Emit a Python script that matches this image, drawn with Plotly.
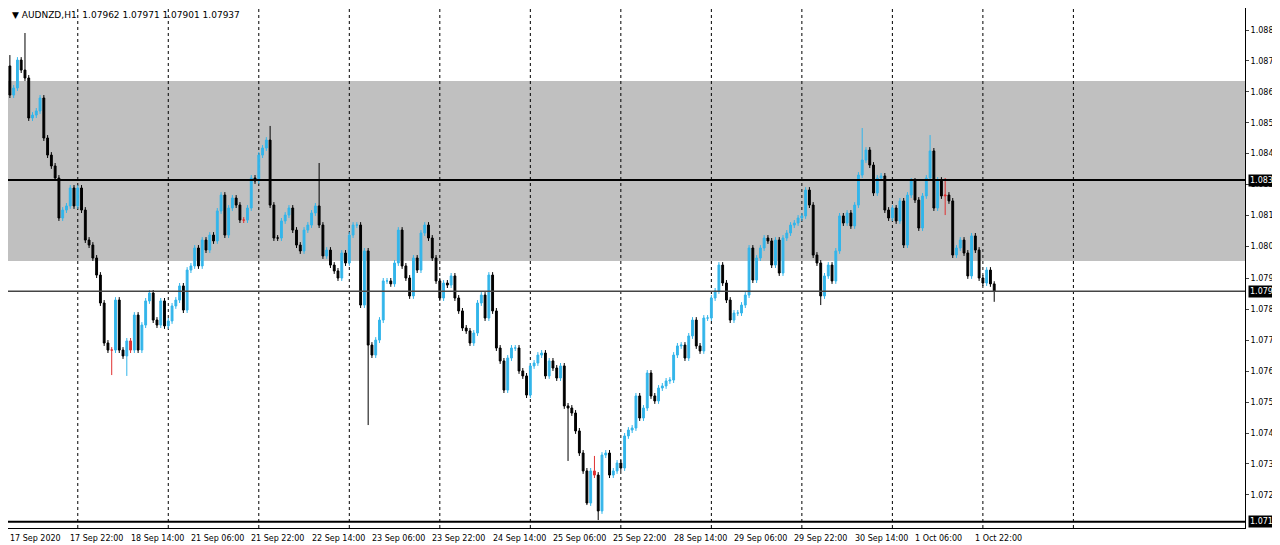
import plotly.graph_objects as go

# AUDNZD H1 closes left to right
close = [
    1.08604, 1.08628, 1.08723, 1.08689, 1.08662, 1.08526, 1.08536, 1.08550, 1.08594, 1.08458,
    1.08400, 1.08363, 1.08322, 1.08186, 1.08213, 1.08227, 1.08288, 1.08227, 1.08288, 1.08213,
    1.08111, 1.08094, 1.08050, 1.07992, 1.07897, 1.07761, 1.07737, 1.07737, 1.07907, 1.07737,
    1.07717, 1.07768, 1.07737, 1.07856, 1.07737, 1.07822, 1.07904, 1.07931, 1.07839, 1.07822,
    1.07904, 1.07819, 1.07836, 1.07887, 1.07907, 1.07955, 1.07873, 1.08009, 1.08023, 1.08084,
    1.08023, 1.08111, 1.08077, 1.08128, 1.08108, 1.08210, 1.08264, 1.08128, 1.08220, 1.08254,
    1.08230, 1.08179, 1.08179, 1.08220, 1.08322, 1.08312, 1.08400,
    1.08424, 1.08451, 1.08230, 1.08118, 1.08118, 1.08176, 1.08196, 1.08220, 1.08145, 1.08094,
    1.08074, 1.08145, 1.08162, 1.08203, 1.08227, 1.08162, 1.08057, 1.08077, 1.08026, 1.08006,
    1.07982, 1.08067, 1.08033, 1.08128, 1.08162, 1.08162, 1.07890, 1.08074, 1.07754, 1.07720,
    1.07771, 1.07839, 1.07972, 1.07972, 1.07962, 1.08033, 1.08145, 1.08023, 1.07982, 1.07921,
    1.08050, 1.08009, 1.08135, 1.08162, 1.08118, 1.08050, 1.07972, 1.07914, 1.07965, 1.07958,
    1.07989, 1.07914, 1.07870, 1.07812, 1.07802, 1.07761, 1.07795, 1.07897, 1.07924, 1.07846,
    1.07992, 1.07870, 1.07744, 1.07700, 1.07601, 1.07710,
    1.07744, 1.07744, 1.07666, 1.07649, 1.07584, 1.07683, 1.07693, 1.07720, 1.07727, 1.07649,
    1.07700, 1.07676, 1.07642, 1.07683, 1.07547, 1.07540, 1.07523, 1.07462, 1.07387, 1.07326,
    1.07217, 1.07326, 1.07312, 1.07190, 1.07380, 1.07387, 1.07312, 1.07326, 1.07353, 1.07336,
    1.07445, 1.07465, 1.07472, 1.07581, 1.07506, 1.07540, 1.07659, 1.07581, 1.07564, 1.07608,
    1.07615, 1.07632, 1.07635, 1.07720, 1.07751, 1.07754, 1.07710, 1.07785, 1.07839, 1.07751,
    1.07734, 1.07846, 1.07846, 1.07914, 1.07938, 1.08026, 1.07965, 1.07907, 1.07839, 1.07863,
    1.07863, 1.07890, 1.07924, 1.08084,
    1.07975, 1.08050, 1.08084, 1.08118, 1.08108, 1.08026, 1.08111, 1.07999, 1.08118, 1.08135,
    1.08162, 1.08169, 1.08186, 1.08193, 1.08281, 1.08230, 1.08060, 1.08033, 1.07921, 1.07989,
    1.08026, 1.07972, 1.08074, 1.08193, 1.08169, 1.08203, 1.08159, 1.08230, 1.08332, 1.08383,
    1.08417, 1.08366, 1.08271, 1.08322, 1.08329, 1.08213, 1.08186, 1.08220, 1.08176, 1.08244,
    1.08094, 1.08264, 1.08312, 1.08247, 1.08152, 1.08261, 1.08322, 1.08414, 1.08220, 1.08315,
    1.08261, 1.08264, 1.08244, 1.08060, 1.08084, 1.08111, 1.08067, 1.07989, 1.08125, 1.08077,
    1.07982, 1.07965, 1.08009, 1.07962, 1.07937,
]
first_open = 1.08703

# notable wick extremes (bar index -> price)
highs_read = {0: 1.08740, 4: 1.08815, 69: 1.08499, 82: 1.08373, 155: 1.07377,
              226: 1.08492, 244: 1.08468, 248: 1.08322, 261: 1.07971}
lows_read = {27: 1.07652, 31: 1.07649, 95: 1.07482, 148: 1.07360, 153: 1.07210,
             156: 1.07159, 215: 1.07890, 248: 1.08196, 261: 1.07901}
red_bars = [27, 32, 62, 155, 248]

zone = (1.08040, 1.08652)
levels = [1.08315, 1.07937, 1.07153]
ytick_vals = [1.08825, 1.08720, 1.08615, 1.08510, 1.08405, 1.08300, 1.08195, 1.08090,
              1.07980, 1.07875, 1.07770, 1.07665, 1.07560, 1.07455, 1.07350, 1.07245]
xlabels = ["17 Sep 2020", "17 Sep 22:00", "18 Sep 14:00", "21 Sep 06:00", "21 Sep 22:00",
           "22 Sep 14:00", "23 Sep 06:00", "23 Sep 22:00", "24 Sep 14:00", "25 Sep 06:00",
           "25 Sep 22:00", "28 Sep 14:00", "29 Sep 06:00", "29 Sep 22:00", "30 Sep 14:00",
           "1 Oct 06:00", "1 Oct 22:00"]
label_pos = [0] + [16 + 16 * k for k in range(16)]
grid_pos = [18 + 24 * k for k in range(12)]

n = len(close)
x = list(range(n))
opn = [first_open] + close[:-1]
w = 0.0001
high = [highs_read.get(i, max(opn[i], close[i]) + w) for i in range(n)]
low = [lows_read.get(i, min(opn[i], close[i]) - w) for i in range(n)]

blue = "#33b5ea"
normal = [i for i in x if i not in red_bars]

fig = go.Figure()
fig.add_trace(go.Candlestick(
    x=normal, open=[opn[i] for i in normal], high=[high[i] for i in normal],
    low=[low[i] for i in normal], close=[close[i] for i in normal],
    increasing=dict(line=dict(color=blue, width=1), fillcolor=blue),
    decreasing=dict(line=dict(color="black", width=1), fillcolor="black"),
    whiskerwidth=0, hoverinfo="skip", showlegend=False))
fig.add_trace(go.Candlestick(
    x=red_bars, open=[opn[i] for i in red_bars], high=[high[i] for i in red_bars],
    low=[low[i] for i in red_bars], close=[close[i] for i in red_bars],
    increasing=dict(line=dict(color="#e03030", width=1), fillcolor="#e03030"),
    decreasing=dict(line=dict(color="#e03030", width=1), fillcolor="#e03030"),
    whiskerwidth=0, hoverinfo="skip", showlegend=False))

shapes = [dict(type="rect", xref="paper", x0=0, x1=1, y0=zone[0], y1=zone[1],
               fillcolor="#c0c0c0", line_width=0, layer="below")]
for g in grid_pos:
    shapes.append(dict(type="line", x0=g, x1=g, yref="paper", y0=0, y1=1,
                       line=dict(color="black", width=1, dash="dot"), layer="below"))
for lv, col, lw in zip(levels, ["black", "#444", "black"], [2, 1.5, 2]):
    shapes.append(dict(type="line", xref="paper", x0=0, x1=1, y0=lv, y1=lv,
                       line=dict(color=col, width=lw)))

ann = [dict(text="▼ AUDNZD,H1  1.07962 1.07971 1.07901 1.07937", xref="paper", yref="paper",
            x=0.002, y=1, xanchor="left", yanchor="top", showarrow=False,
            font=dict(size=9, color="black"))]
for lv in levels:
    ann.append(dict(text=f"{lv:.5f}", xref="paper", x=1, y=lv, xanchor="left",
                    showarrow=False, bgcolor="black", font=dict(size=8, color="white"),
                    borderpad=1, xshift=3))
for p, t in zip(label_pos, xlabels):
    ann.append(dict(text=t, x=p, yref="paper", y=0, xanchor="left", yanchor="top",
                    showarrow=False, yshift=-4, xshift=-2, font=dict(size=8, color="black")))

fig.update_layout(
    width=1280, height=545, margin=dict(l=0, r=43, t=0, b=25, autoexpand=False),
    paper_bgcolor="white", plot_bgcolor="white",
    font=dict(family="DejaVu Sans", size=8, color="black"),
    shapes=shapes, annotations=ann,
    xaxis=dict(range=[-0.5, 327.5], rangeslider_visible=False, showgrid=False,
               showticklabels=False, zeroline=False, showline=True, linecolor="black",
               automargin=False),
    yaxis=dict(range=[1.07132, 1.08900], side="right", tickvals=ytick_vals,
               ticktext=[f"{v:.5f}" for v in ytick_vals], ticks="outside", ticklen=3,
               showgrid=False, zeroline=False, showline=True, linecolor="black",
               automargin=False),
)
fig.write_html("out.html")
